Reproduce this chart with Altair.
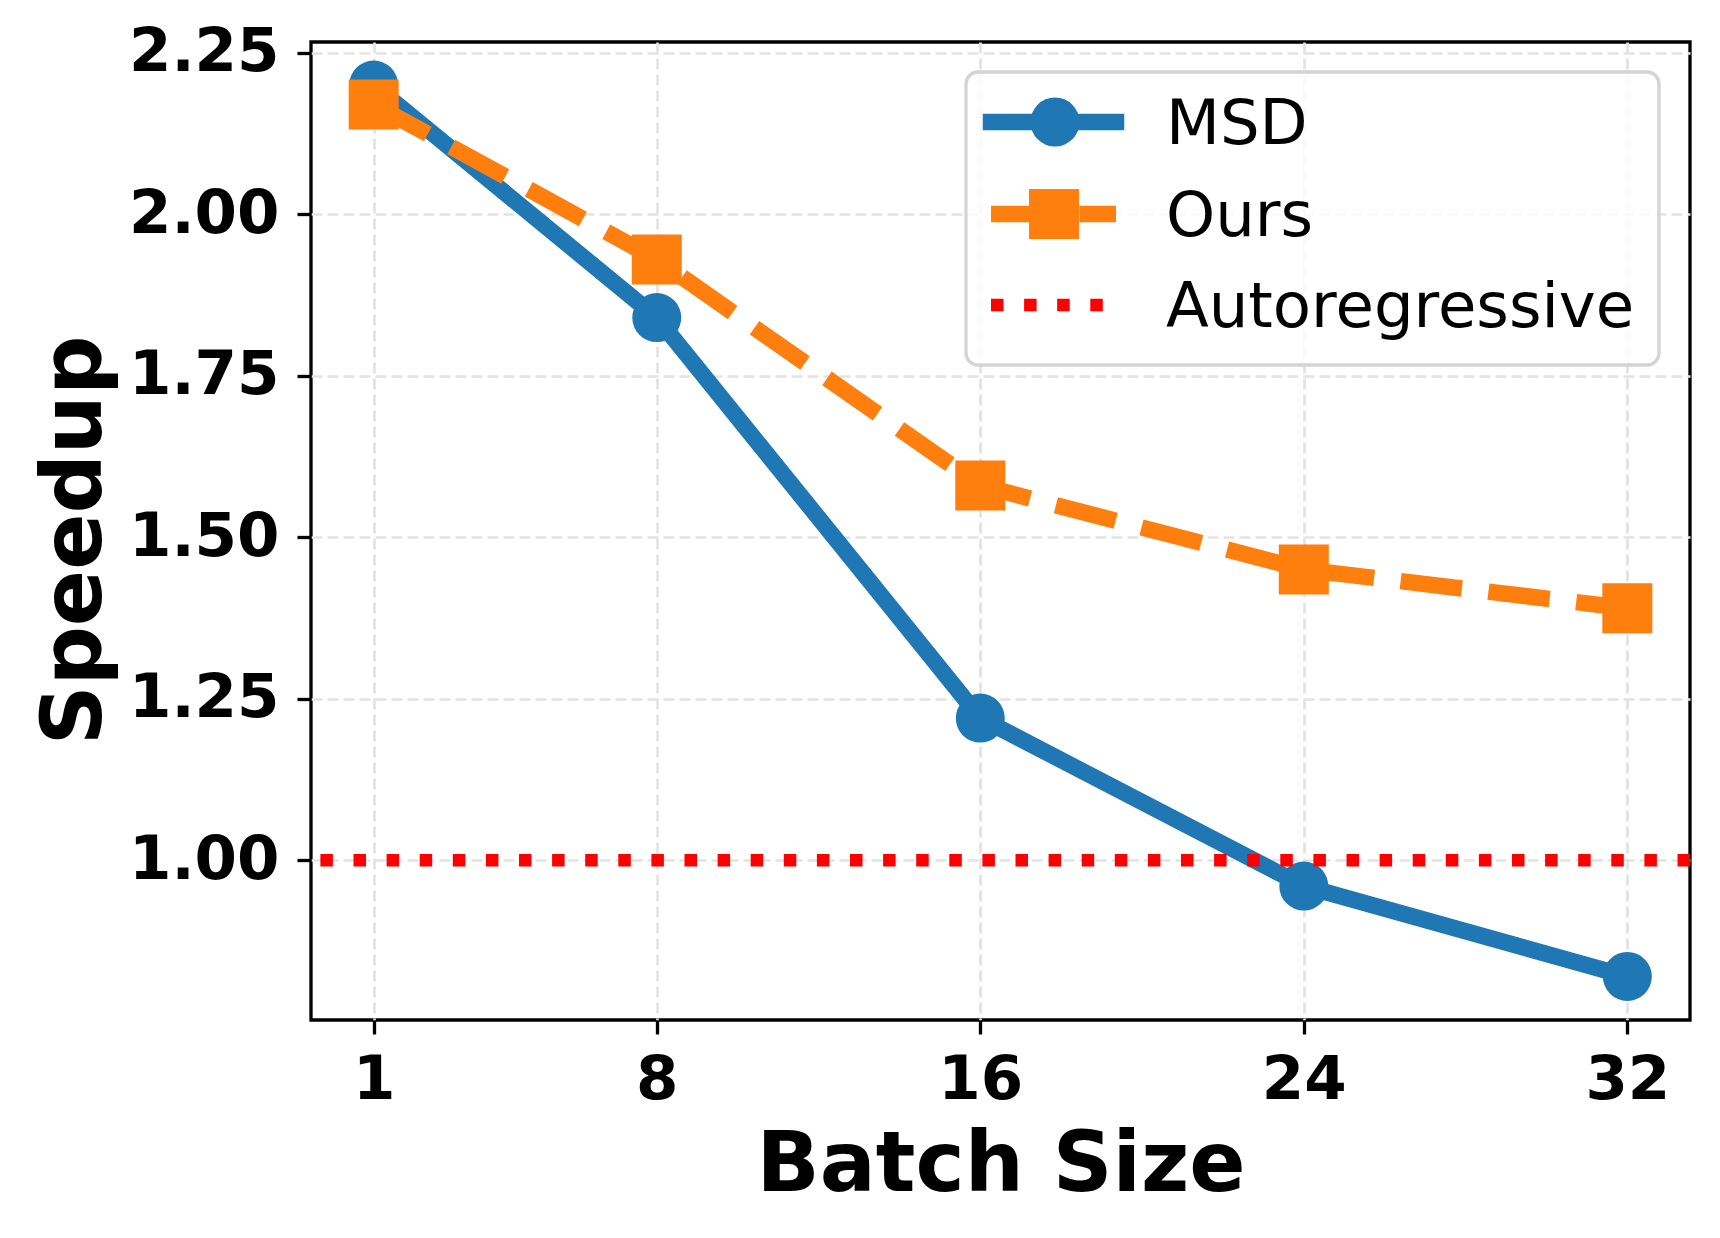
import altair as alt
import pandas as pd

# ---- data ----
batch_sizes = [1, 8, 16, 24, 32]
msd_speedup = [2.20, 1.84, 1.22, 0.96, 0.82]
ours_speedup = [2.17, 1.93, 1.58, 1.45, 1.39]
autoregressive_speedup = [1.0]
series_names = ["MSD", "Ours", "Autoregressive"]
y_ticks = [1.00, 1.25, 1.50, 1.75, 2.00, 2.25]

rows = []
for b, v in zip(batch_sizes, msd_speedup):
    rows.append({"batch": b, "speedup": v, "series": series_names[0]})
for b, v in zip(batch_sizes, ours_speedup):
    rows.append({"batch": b, "speedup": v, "series": series_names[1]})
df = pd.DataFrame(rows)
df_ar = pd.DataFrame({"speedup": autoregressive_speedup})
one = pd.DataFrame({"k": [0]})

BLUE = "#1f77b4"
ORANGE = "#ff7f0e"
RED = "#ff0000"
FONT = "DejaVu Sans"
W, H = 1379, 978

x_enc = alt.X(
    "batch:Q",
    scale=alt.Scale(domain=[-0.55, 33.55], nice=False, zero=False),
    axis=alt.Axis(
        values=batch_sizes, title="Batch Size", format="d",
        labelFont=FONT, labelFontSize=61, labelFontWeight="bold", labelColor="black",
        labelBaseline="alphabetic", labelPadding=64, labelFlush=False, labelOverlap=False,
        tickColor="black", tickSize=14, tickWidth=3.3, domain=False,
        grid=True, gridColor="#e3e3e3", gridDash=[11, 5], gridWidth=2.7,
        titleFont=FONT, titleFontSize=83, titleFontWeight="bold", titleColor="black",
        titleX=W / 2, titleY=170, titleAlign="center", titleBaseline="alphabetic",
    ),
)
y_enc = alt.Y(
    "speedup:Q",
    scale=alt.Scale(domain=[0.7526, 2.2666], nice=False, zero=False),
    axis=alt.Axis(
        values=y_ticks, title="Speedup", format=".2f",
        labelFont=FONT, labelFontSize=61, labelFontWeight="bold", labelColor="black",
        labelBaseline="middle", labelPadding=18, labelFlush=False, labelOverlap=False,
        tickColor="black", tickSize=14, tickWidth=3.3, domain=False,
        grid=True, gridColor="#e3e3e3", gridDash=[11, 5], gridWidth=2.7,
        titleFont=FONT, titleFontSize=83, titleFontWeight="bold", titleColor="black",
        titleX=-211, titleY=498, titleAngle=270, titleAlign="center",
        titleBaseline="alphabetic",
    ),
)

base = alt.Chart(df).encode(x=x_enc, y=y_enc)

msd_line = base.transform_filter(alt.datum.series == "MSD").mark_line(
    color=BLUE, strokeWidth=16.5, strokeCap="square", strokeJoin="round"
)
msd_pts = base.transform_filter(alt.datum.series == "MSD").mark_point(
    shape="circle", filled=True, size=2400, color=BLUE, opacity=1
)
ours_line = base.transform_filter(alt.datum.series == "Ours").mark_line(
    color=ORANGE, strokeWidth=16.5, strokeDash=[61.7, 26.7], strokeJoin="round"
)
ours_pts = base.transform_filter(alt.datum.series == "Ours").mark_point(
    shape="square", filled=True, size=2500, color=ORANGE, opacity=1
)
ar_rule = alt.Chart(df_ar).mark_rule(
    color=RED, strokeWidth=12.5, strokeDash=[12.5, 20.6]
).encode(y=y_enc)

# ---- manual legend (matplotlib-style) ----
leg_box = alt.Chart(one).mark_rect(
    fill="white", fillOpacity=0.8, stroke="#d4d4d4", strokeWidth=3.3, cornerRadius=12
).encode(x=alt.value(655), x2=alt.value(1348), y=alt.value(30), y2=alt.value(323))

leg_msd_line = alt.Chart(one).mark_rule(
    color=BLUE, strokeWidth=16.5, strokeCap="square"
).encode(x=alt.value(680), x2=alt.value(805), y=alt.value(80))
leg_msd_pt = alt.Chart(one).mark_point(
    shape="circle", filled=True, size=2400, color=BLUE, opacity=1
).encode(x=alt.value(744), y=alt.value(80))
leg_ours_line = alt.Chart(one).mark_rule(
    color=ORANGE, strokeWidth=16.5, strokeDash=[61.7, 26.7]
).encode(x=alt.value(680), x2=alt.value(805), y=alt.value(172))
leg_ours_pt = alt.Chart(one).mark_point(
    shape="square", filled=True, size=2500, color=ORANGE, opacity=1
).encode(x=alt.value(743), y=alt.value(172))
leg_ar_line = alt.Chart(one).mark_rule(
    color=RED, strokeWidth=12.5, strokeDash=[12.5, 20.6]
).encode(x=alt.value(680), x2=alt.value(805), y=alt.value(263))

leg_texts = []
for name, yb in zip(series_names, [102, 194, 285]):
    leg_texts.append(
        alt.Chart(one).mark_text(
            text=name, font=FONT, fontSize=62.5, color="black",
            align="left", baseline="alphabetic"
        ).encode(x=alt.value(855), y=alt.value(yb))
    )

chart = alt.layer(
    msd_line, msd_pts, ours_line, ours_pts, ar_rule,
    leg_box, leg_msd_line, leg_msd_pt, leg_ours_line, leg_ours_pt, leg_ar_line,
    *leg_texts,
).properties(
    width=W, height=H,
    autosize=alt.AutoSizeParams(type="none"),
    padding={"left": 311, "top": 42, "right": 30, "bottom": 218},
    background="white",
).configure_view(
    stroke="black", strokeWidth=3.3
)

chart.save("out.html", embed_options={"renderer": "svg", "actions": False})
